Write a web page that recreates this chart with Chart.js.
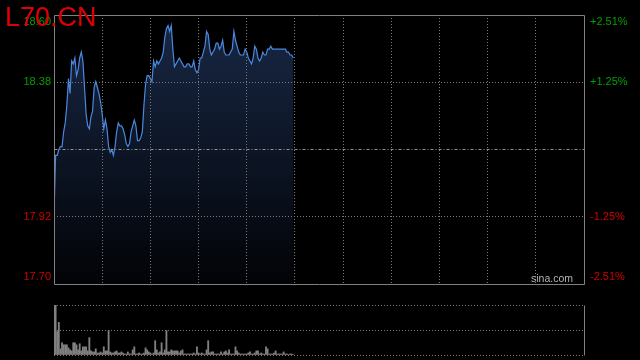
<!DOCTYPE html>
<html>
<head>
<meta charset="utf-8">
<script src="https://cdn.jsdelivr.net/npm/chart.js@4.4.0/dist/chart.umd.min.js"></script>
<style>
html,body{margin:0;padding:0;background:#000;width:640px;height:360px;overflow:hidden;}
#wrap{position:relative;width:640px;height:360px;background:#000;}
canvas{position:absolute;left:0;}
#c1{top:0;}
#c2{top:290px;}
#title{position:absolute;left:5px;top:4px;font-family:"Liberation Sans",Arial,sans-serif;font-size:27px;line-height:27px;color:#e00000;z-index:3;white-space:nowrap;}
#brand{position:absolute;right:67px;top:273px;font-family:"Liberation Sans",Arial,sans-serif;font-size:10.5px;line-height:11px;color:#b4b4b4;z-index:3;white-space:nowrap;}
</style>
</head>
<body>
<div id="wrap">
<canvas id="c1" width="640" height="290"></canvas>
<canvas id="c2" width="640" height="70"></canvas>
<div id="title">L70.CN</div>
<div id="brand">sina.com</div>
</div>
<script>
// ---- data ----
const symbol = 'L70.CN';
const prevClose = 18.15;
const pctRange = 0.0251;
const sessionMinutes = 330;
const gridMinutes = [0, 30, 60, 90, 120, 150, 180, 210, 240, 270, 300, 330];
const priceTickLabels = ['17.70', '17.92', '', '18.38', '18.60'];
const pctTickLabels = ['-2.51%', '-1.25%', '', '+1.25%', '+2.51%'];

const prices = [
  17.93, 18.13, 18.13, 18.15, 18.16, 18.16, 18.21, 18.24, 18.30, 18.39,
  18.34, 18.45, 18.44, 18.46, 18.40, 18.42, 18.46, 18.48, 18.45, 18.36,
  18.27, 18.23, 18.22, 18.26, 18.28, 18.36, 18.38, 18.36, 18.34, 18.31,
  18.27, 18.22, 18.25, 18.22, 18.16, 18.14, 18.15, 18.13, 18.16, 18.21,
  18.24, 18.23, 18.23, 18.22, 18.20, 18.17, 18.16, 18.17, 18.21, 18.23,
  18.25, 18.23, 18.18, 18.18, 18.19, 18.21, 18.30, 18.37, 18.40, 18.40,
  18.39, 18.38, 18.45, 18.43, 18.45, 18.44, 18.45, 18.46, 18.48, 18.53,
  18.56, 18.57, 18.55, 18.57, 18.49, 18.43, 18.44, 18.45, 18.46, 18.45,
  18.44, 18.43, 18.43, 18.44, 18.44, 18.43, 18.43, 18.45, 18.42, 18.41,
  18.42, 18.46, 18.46, 18.48, 18.50, 18.55, 18.54, 18.49, 18.47, 18.48,
  18.49, 18.51, 18.51, 18.49, 18.50, 18.52, 18.48, 18.47, 18.47, 18.47,
  18.48, 18.49, 18.55, 18.52, 18.50, 18.48, 18.47, 18.47, 18.47, 18.49,
  18.48, 18.46, 18.45, 18.44, 18.46, 18.50, 18.49, 18.46, 18.45, 18.46,
  18.48, 18.47, 18.47, 18.49, 18.49, 18.50, 18.49, 18.49, 18.49, 18.49,
  18.49, 18.49, 18.49, 18.49, 18.49, 18.48, 18.48, 18.47, 18.47, 18.46
];

const volumes = [
  43, 49, 23, 32, 6, 12, 10, 10, 10, 7,
  5, 4, 12, 12, 10, 5, 11, 4, 8, 8,
  8, 4, 17, 4, 3, 3, 6, 2, 2, 3,
  2, 8, 4, 4, 24, 3, 2, 2, 3, 4,
  2, 2, 3, 2, 1, 1, 3, 1, 1, 5,
  8, 1, 1, 2, 1, 1, 2, 7, 5, 3,
  2, 1, 2, 14, 5, 2, 3, 12, 2, 5,
  24, 3, 3, 5, 4, 4, 4, 4, 2, 4,
  5, 1, 1, 1, 1, 1, 1, 2, 1, 8,
  2, 1, 2, 1, 1, 5, 14, 2, 3, 3,
  1, 1, 1, 1, 3, 1, 3, 4, 2, 5,
  1, 1, 1, 8, 4, 2, 1, 1, 1, 1,
  1, 2, 3, 1, 1, 2, 4, 4, 1, 2,
  1, 1, 8, 6, 1, 1, 1, 2, 4, 1,
  1, 1, 1, 3, 1, 1, 0.5, 1, 1, 0.5
];
const volMax = 49;

// ---- derived ----
const minutes = prices.map((_, i) => i);
const yMin = prevClose * (1 - pctRange);
const yMax = prevClose * (1 + pctRange);
const priceTickValues = priceTickLabels.map((_, i) => yMin + i * (yMax - yMin) / (priceTickLabels.length - 1));
const volTickValues = [0, volMax / 2, volMax];

const FONT = '"Liberation Sans", Arial, sans-serif';
const GREEN = '#00a000';
const RED = '#d20000';
const GRID = '#7a7a7a';
const FRAME = '#808080';
const CLEAR = 'rgba(0,0,0,0)';

Chart.defaults.font.family = FONT;

const noPad = s => { s.paddingTop = 0; s.paddingBottom = 0; s.paddingLeft = 0; s.paddingRight = 0; };
const fitWidth = w => s => { s.width = w; noPad(s); };
const fitHeight = h => s => { s.height = h; noPad(s); };

const framePlugin = {
  id: 'frame',
  afterDraw(chart, args, opts) {
    const { ctx, chartArea: a } = chart;
    const L = Math.round(a.left) + 0.5, R = Math.round(a.right) + 0.5;
    const T = Math.round(a.top) + 0.5, B = Math.round(a.bottom) + 0.5;
    ctx.save();
    if (opts.midValue !== undefined) {
      const y = Math.round(chart.scales.y.getPixelForValue(opts.midValue)) + 0.5;
      ctx.strokeStyle = '#909090';
      ctx.lineWidth = 1;
      ctx.setLineDash([3, 2, 1, 2]);
      ctx.beginPath(); ctx.moveTo(L, y); ctx.lineTo(R, y); ctx.stroke();
      ctx.setLineDash([]);
    }
    ctx.strokeStyle = FRAME;
    ctx.lineWidth = 1;
    ctx.beginPath();
    const s = opts.sides || [];
    if (s.includes('top')) { ctx.moveTo(L, T); ctx.lineTo(R, T); }
    if (s.includes('bottom')) { ctx.moveTo(L, B); ctx.lineTo(R, B); }
    if (s.includes('left')) { ctx.moveTo(L, T); ctx.lineTo(L, B); }
    if (s.includes('right')) { ctx.moveTo(R, T); ctx.lineTo(R, B); }
    ctx.stroke();
    ctx.restore();
  }
};

const priceLabel = (labels) => (v, i) => {
  const t = labels[i];
  if (i === labels.length - 1) return ['', t];
  if (i === 0) return [t, ''];
  return t;
};

new Chart(document.getElementById('c1'), {
  type: 'line',
  data: {
    datasets: [{
      data: minutes.map((m, i) => ({ x: m, y: prices[i] })),
      borderColor: '#4a88e0',
      borderWidth: 1.2,
      pointRadius: 0,
      tension: 0,
      fill: 'start',
      backgroundColor: (ctx) => {
        const a = ctx.chart.chartArea;
        if (!a) return CLEAR;
        const g = ctx.chart.ctx.createLinearGradient(0, a.top, 0, a.bottom);
        g.addColorStop(0, 'rgb(24,40,70)');
        g.addColorStop(1, 'rgb(2,3,6)');
        return g;
      }
    }]
  },
  options: {
    responsive: false,
    animation: false,
    devicePixelRatio: 1,
    layout: { autoPadding: false, padding: { top: 15, bottom: 6, left: 0, right: 0 } },
    plugins: {
      legend: { display: false },
      tooltip: { enabled: false },
      frame: { sides: ['top', 'right', 'bottom', 'left'], midValue: prevClose }
    },
    scales: {
      x: {
        type: 'linear', min: 0, max: sessionMinutes, bounds: 'data',
        afterBuildTicks: s => { s.ticks = gridMinutes.map(v => ({ value: v })); },
        afterFit: fitHeight(0),
        ticks: { display: false },
        grid: {
          z: 1, drawTicks: false, lineWidth: 1,
          color: c => (c.index === 0 || c.index === gridMinutes.length - 1) ? CLEAR : GRID
        },
        border: { display: false, dash: [1, 2] }
      },
      y: {
        position: 'left', min: yMin, max: yMax, bounds: 'data',
        afterBuildTicks: s => { s.ticks = priceTickValues.map(v => ({ value: v })); },
        afterFit: fitWidth(54),
        ticks: {
          padding: 3, font: { size: 11, family: FONT },
          color: c => c.index > 2 ? GREEN : RED,
          callback: priceLabel(priceTickLabels)
        },
        grid: {
          z: 1, drawTicks: false, lineWidth: 1,
          color: c => (c.index === 1 || c.index === 3) ? GRID : CLEAR
        },
        border: { display: false, dash: [1, 2] }
      },
      y2: {
        position: 'right', min: yMin, max: yMax, bounds: 'data',
        afterBuildTicks: s => { s.ticks = priceTickValues.map(v => ({ value: v })); },
        afterFit: fitWidth(56),
        ticks: {
          padding: 6, font: { size: 11, family: FONT },
          color: c => c.index > 2 ? GREEN : RED,
          callback: priceLabel(pctTickLabels)
        },
        grid: { display: false, drawTicks: false },
        border: { display: false }
      }
    }
  },
  plugins: [framePlugin]
});

new Chart(document.getElementById('c2'), {
  type: 'bar',
  data: {
    datasets: [{
      data: minutes.map((m, i) => ({ x: m, y: volumes[i] })),
      backgroundColor: '#808080',
      borderWidth: 0,
      barThickness: 1.2
    }]
  },
  options: {
    responsive: false,
    animation: false,
    devicePixelRatio: 1,
    layout: { autoPadding: false, padding: { top: 15, bottom: 5, left: 0, right: 56 } },
    plugins: {
      legend: { display: false },
      tooltip: { enabled: false },
      frame: { sides: ['left', 'right'] }
    },
    scales: {
      x: {
        type: 'linear', min: 0, max: sessionMinutes, bounds: 'data', offset: false,
        display: false
      },
      y: {
        position: 'left', min: 0, max: volMax, bounds: 'data',
        afterBuildTicks: s => { s.ticks = volTickValues.map(v => ({ value: v })); },
        afterFit: fitWidth(54),
        ticks: { display: false },
        grid: { z: 1, drawTicks: false, lineWidth: 1, color: GRID },
        border: { display: false, dash: [1, 2] }
      }
    }
  },
  plugins: [framePlugin]
});
</script>
</body>
</html>
